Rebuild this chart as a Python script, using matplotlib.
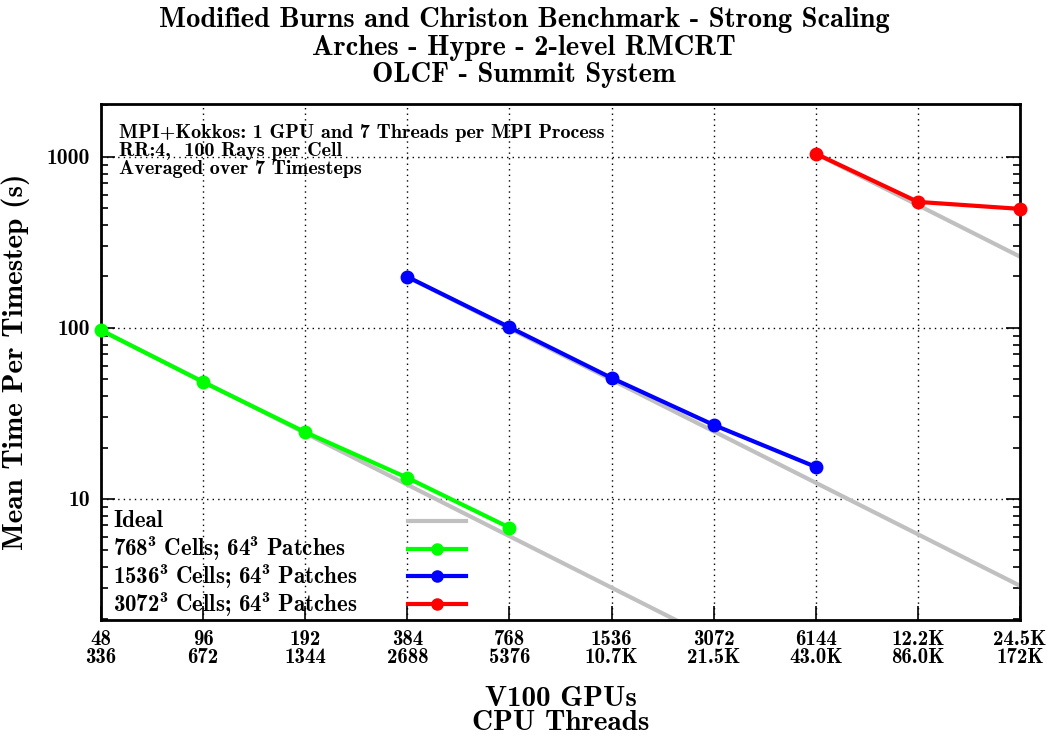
import matplotlib
matplotlib.use('Agg')
import matplotlib.pyplot as plt
from matplotlib.ticker import FixedLocator, NullFormatter, LogLocator

# GPU counts and CPU thread labels
gpus = [48, 96, 192, 384, 768, 1536, 3072, 6144, 12288, 24576]
gpu_labels = ['48', '96', '192', '384', '768', '1536', '3072', '6144', '12.2K', '24.5K']
thread_labels = ['336', '672', '1344', '2688', '5376', '10.7K', '21.5K', '43.0K', '86.0K', '172K']

# Mean time per timestep (s)
gpus_768 = [48, 96, 192, 384, 768]
time_768 = [97.0, 48.3, 24.6, 13.3, 6.8]

gpus_1536 = [384, 768, 1536, 3072, 6144]
time_1536 = [199.0, 101.0, 51.0, 27.1, 15.4]

gpus_3072 = [6144, 12288, 24576]
time_3072 = [1045.0, 546.0, 497.0]

series = [
    ('768$^\\mathbf{3}$ Cells; 64$^\\mathbf{3}$ Patches', gpus_768, time_768, '#00ff00'),
    ('1536$^\\mathbf{3}$ Cells; 64$^\\mathbf{3}$ Patches', gpus_1536, time_1536, '#0000ff'),
    ('3072$^\\mathbf{3}$ Cells; 64$^\\mathbf{3}$ Patches', gpus_3072, time_3072, '#ff0000'),
]

plt.rcParams['font.family'] = 'cmb10'
plt.rcParams['mathtext.fontset'] = 'custom'
plt.rcParams['mathtext.rm'] = 'cmb10'
plt.rcParams['mathtext.bf'] = 'cmb10'
plt.rcParams['axes.unicode_minus'] = False
plt.rcParams['axes.formatter.use_mathtext'] = False

fig = plt.figure(figsize=(10.48, 7.37), dpi=100)
ax = fig.add_axes([0.0964, 0.1587, 0.8769, 0.7002])

IDEAL = '#c0c0c0'

# ideal scaling lines, from the first point of each run
for label, x, y, color in series:
    ideal_x = [g for g in gpus if g >= x[0]]
    ideal_y = [y[0] * x[0] / g for g in ideal_x]
    ax.plot(ideal_x, ideal_y, color=IDEAL, lw=3, zorder=2)

for label, x, y, color in series:
    ax.plot(x, y, color=color, lw=3, marker='o', ms=9, zorder=3, clip_on=False)

ax.set_xscale('log', base=2)
ax.set_yscale('log')
ax.set_xlim(48, 24576)
ax.set_ylim(1.96, 2040)

ax.xaxis.set_major_locator(FixedLocator(gpus))
ax.set_xticklabels([f'{a}\n{b}' for a, b in zip(gpu_labels, thread_labels)],
                   linespacing=0.95)
ax.xaxis.set_minor_locator(FixedLocator([]))
ax.yaxis.set_major_locator(FixedLocator([10, 100, 1000]))
ax.set_yticklabels(['10', '100', '1000'])
ax.yaxis.set_minor_locator(LogLocator(base=10, subs=range(2, 10)))
ax.yaxis.set_minor_formatter(NullFormatter())

ax.tick_params(axis='both', which='major', direction='in', length=10, width=1.2,
               labelsize=15.5, pad=8)
ax.tick_params(axis='y', which='both', right=True)
ax.tick_params(axis='y', which='minor', direction='in', length=5, width=1.2)
ax.tick_params(axis='x', which='major', labelsize=15, pad=7)

ax.grid(True, which='major', color='black', linestyle=(0, (1, 3)), linewidth=1)
for s in ax.spines.values():
    s.set_linewidth(2)

ax.set_ylabel('Mean Time Per Timestep (s)', fontsize=21, labelpad=12)
ax.set_xlabel('V100 GPUs\nCPU Threads', fontsize=21, labelpad=14, linespacing=0.88)
fig.suptitle('Modified Burns and Christon Benchmark - Strong Scaling\n'
             'Arches - Hypre - 2-level RMCRT\nOLCF - Summit System',
             fontsize=20.5, y=0.99, linespacing=1.07)

ax.text(0.02, 0.962, 'MPI+Kokkos: 1 GPU and 7 Threads per MPI Process\n'
        'RR:4,  100 Rays per Cell\nAveraged over 7 Timesteps',
        transform=ax.transAxes, fontsize=14.5, va='top', ha='left', linespacing=1.0)

# legend drawn by hand: text left aligned, samples on the right
leg_items = [('Ideal', IDEAL, False)] + [(l, c, True) for l, _, _, c in series]
for i, (label, color, has_marker) in enumerate(leg_items):
    yy = 0.192 - i * 0.0537
    ax.text(0.013, yy, label, transform=ax.transAxes, fontsize=16.5,
            va='center', ha='left')
    ax.plot([0.334, 0.397], [yy, yy], transform=ax.transAxes, color=color,
            lw=3, zorder=4)
    if has_marker:
        ax.plot([0.3655], [yy], transform=ax.transAxes, color=color,
                marker='o', ms=8, zorder=4)

fig.savefig('out.png', dpi=100)
